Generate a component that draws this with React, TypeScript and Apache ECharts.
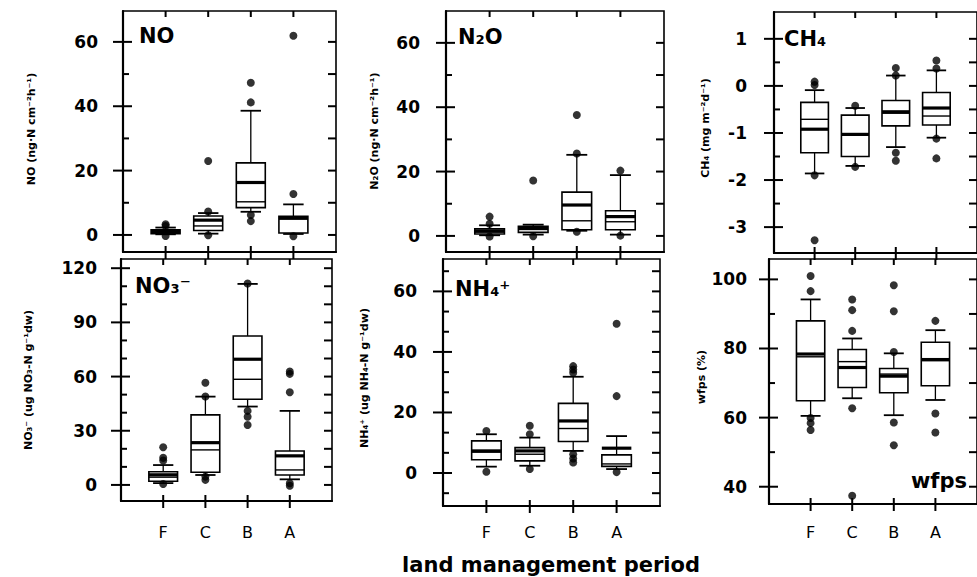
import React, { useEffect, useRef } from 'react';
import * as echarts from 'echarts';

const CATEGORIES = ['F', 'C', 'B', 'A'];
const CATEGORY_POS = [1, 2, 3, 4];

// box statistics per category: [lowerWhisker, q1, median, mean, q3, upperWhisker]
const NO_BOX = [
  [0.2, 0.4, 0.8, 1.1, 1.6, 2.3],
  [0.4, 1.4, 2.8, 4.6, 5.9, 6.8],
  [7.2, 8.5, 10.3, 16.3, 22.4, 38.6],
  [0.3, 0.6, 4.9, 5.4, 5.8, 9.5],
];
const NO_OUT = [[3.3, 2.8, -0.3], [7.3, 23.0, -0.1], [41.2, 47.3, 6.2, 4.3], [12.7, 61.9, -0.4]];

const N2O_BOX = [
  [0.2, 0.6, 1.2, 1.5, 2.2, 3.3],
  [0.4, 1.1, 2.0, 2.4, 3.0, 3.5],
  [1.6, 1.9, 4.7, 9.6, 13.6, 25.2],
  [0.4, 1.9, 4.4, 6.0, 7.8, 18.9],
];
const N2O_OUT = [[6.0, 3.8, -0.2], [17.2, -0.1], [25.6, 37.6, 1.3], [20.3, 0.1]];

const CH4_BOX = [
  [-1.86, -1.42, -0.71, -0.92, -0.35, -0.09],
  [-1.7, -1.5, -1.05, -1.03, -0.62, -0.47],
  [-1.3, -0.85, -0.58, -0.55, -0.31, 0.22],
  [-1.1, -0.83, -0.64, -0.47, -0.14, 0.33],
];
const CH4_OUT = [[0.09, 0.02, -1.9, -3.28], [-0.42, -1.72], [0.22, 0.38, -1.42, -1.59], [0.37, 0.54, -1.12, -1.54]];

const NO3_BOX = [
  [1.0, 2.0, 4.3, 5.6, 7.3, 11.0],
  [5.5, 7.0, 19.4, 23.4, 38.8, 48.9],
  [43.4, 47.4, 58.5, 69.6, 82.5, 111.3],
  [3.1, 5.5, 8.3, 16.1, 18.8, 41.0],
];
const NO3_OUT = [[20.9, 15.0, 13.5, 0.5], [49.0, 56.6, 4.6, 2.8], [111.5, 41.0, 37.8, 33.2], [51.3, 61.5, 62.8, 0.9, -0.5]];

const NH4_BOX = [
  [2.1, 4.4, 6.9, 7.3, 10.6, 12.8],
  [2.4, 4.0, 6.2, 7.3, 8.4, 11.7],
  [7.3, 10.4, 14.7, 17.2, 23.0, 31.8],
  [1.3, 2.2, 3.0, 8.2, 6.0, 12.2],
];
const NH4_OUT = [[13.9, 0.4], [12.8, 15.6, 1.3], [33.1, 34.2, 35.3, 6.2, 4.8, 3.5], [25.4, 49.3, 0.3]];

const WFPS_BOX = [
  [60.5, 64.9, 77.6, 78.4, 88.0, 94.2],
  [65.6, 68.7, 76.2, 74.5, 79.7, 82.9],
  [60.7, 67.2, 72.6, 72.0, 74.2, 78.6],
  [65.1, 69.2, 76.5, 76.8, 81.8, 85.3],
];
const WFPS_OUT = [[96.6, 101.0, 59.9, 58.4, 56.4], [85.1, 91.1, 94.2, 62.7, 37.4], [79.0, 90.8, 98.3, 58.6, 52.0], [88.0, 61.2, 55.7]];

const NO_TICKS = [0, 20, 40, 60];
const NO_MINOR = [10, 30, 50];
const CH4_TICKS = [-3, -2, -1, 0, 1];
const CH4_MINOR = [-2.5, -1.5, -0.5, 0.5];
const NO3_TICKS = [0, 30, 60, 90, 120];
const NO3_MINOR = [10, 20, 40, 50, 70, 80, 100, 110];
const NH4_TICKS = [0, 20, 40, 60];
const NH4_MINOR = [-20 / 3, 20 / 3, 40 / 3, 80 / 3, 100 / 3, 140 / 3, 160 / 3, 200 / 3];
const WFPS_TICKS = [40, 60, 80, 100];
const WFPS_MINOR = [50, 70, 90];

const FONT = 'DejaVu Sans';

const PANELS = [
  { box: NO_BOX, out: NO_OUT, major: NO_TICKS, minor: NO_MINOR, yMin: -5.3, yMax: 69.6,
    left: 123, top: 11, width: 213, height: 241, showX: false, xm: 22, lm: 25,
    title: 'NO', tx: 139, ty: 36, ta: 'left', yName: 'NO (ng·N cm⁻²h⁻¹)', nx: 31, ny: 129 },
  { box: N2O_BOX, out: N2O_OUT, major: NO_TICKS, minor: NO_MINOR, yMin: -5.0, yMax: 69.9,
    left: 446, top: 11, width: 218, height: 241, showX: false, xm: 22, lm: 26,
    title: 'N₂O', tx: 458, ty: 37, ta: 'left', yName: 'N₂O (ng·N cm⁻²h⁻¹)', nx: 374, ny: 131 },
  { box: CH4_BOX, out: CH4_OUT, major: CH4_TICKS, minor: CH4_MINOR, yMin: -3.55, yMax: 1.57,
    left: 774, top: 12, width: 218, height: 241, showX: false, xm: 22, lm: 27,
    title: 'CH₄', tx: 784, ty: 39, ta: 'left', yName: 'CH₄ (mg m⁻²d⁻¹)', nx: 705, ny: 128 },
  { box: NO3_BOX, out: NO3_OUT, major: NO3_TICKS, minor: NO3_MINOR, yMin: -8.9, yMax: 125.1,
    left: 121, top: 259, width: 211, height: 242, showX: true, xm: 23, lm: 24,
    title: 'NO₃⁻', tx: 135, ty: 286, ta: 'left', yName: 'NO₃⁻ (ug NO₃-N g⁻¹dw)', nx: 28, ny: 380 },
  { box: NH4_BOX, out: NH4_OUT, major: NH4_TICKS, minor: NH4_MINOR, yMin: -10.9, yMax: 70.7,
    left: 443, top: 259, width: 217, height: 247, showX: true, xm: 18, lm: 26,
    title: 'NH₄⁺', tx: 455, ty: 289, ta: 'left', yName: 'NH₄⁺ (ug NH₄-N g⁻¹dw)', nx: 364, ny: 378 },
  { box: WFPS_BOX, out: WFPS_OUT, major: WFPS_TICKS, minor: WFPS_MINOR, yMin: 35, yMax: 105.9,
    left: 769, top: 259, width: 217, height: 245, showX: true, xm: 20, lm: 22,
    title: 'wfps', tx: 967, ty: 481, ta: 'right', yName: 'wfps (%)', nx: 701, ny: 377 },
];

// box renderer; the first item of each panel also carries that panel's tick marks (as thin filled rects)
function makeBoxRenderer(p: any) {
  return (params: any, api: any) => {
    const x = api.value(0);
    const pt = (i: number) => api.coord([x, api.value(i)]);
    const lw = pt(1), q1 = pt(2), med = pt(3), mean = pt(4), q3 = pt(5), uw = pt(6);
    const bw = api.size([0.68, 0])[0];
    const cw = api.size([0.48, 0])[0];
    const cx = lw[0];
    const children: any[] = [
      { type: 'line', shape: { x1: cx, y1: q3[1], x2: cx, y2: uw[1] }, style: { stroke: '#000', lineWidth: 1.3 } },
      { type: 'line', shape: { x1: cx, y1: q1[1], x2: cx, y2: lw[1] }, style: { stroke: '#000', lineWidth: 1.3 } },
      { type: 'line', shape: { x1: cx - cw / 2, y1: uw[1], x2: cx + cw / 2, y2: uw[1] }, style: { stroke: '#000', lineWidth: 1.8 } },
      { type: 'line', shape: { x1: cx - cw / 2, y1: lw[1], x2: cx + cw / 2, y2: lw[1] }, style: { stroke: '#000', lineWidth: 1.8 } },
      { type: 'rect', shape: { x: cx - bw / 2, y: q3[1], width: bw, height: q1[1] - q3[1] }, style: { fill: '#fff', stroke: '#000', lineWidth: 1.6 } },
      { type: 'line', shape: { x1: cx - bw / 2, y1: med[1], x2: cx + bw / 2, y2: med[1] }, style: { stroke: '#000', lineWidth: 1.4 } },
      { type: 'line', shape: { x1: cx - bw / 2, y1: mean[1], x2: cx + bw / 2, y2: mean[1] }, style: { stroke: '#000', lineWidth: 3.2 } },
    ];
    if (params.dataIndex === 0) {
      const hTick = (x1: number, x2: number, y: number) =>
        children.push({ type: 'rect', shape: { x: x1, y: y - 1, width: x2 - x1, height: 2 }, style: { fill: '#000', stroke: null } });
      const vTick = (xx: number, y1: number, y2: number) =>
        children.push({ type: 'rect', shape: { x: xx - 1, y: y1, width: 2, height: y2 - y1 }, style: { fill: '#000', stroke: null } });
      const [xl, yt] = api.coord([0, p.yMax]);
      const [xr, yb] = api.coord([5, p.yMin]);
      p.major.forEach((v: number) => {
        const y = api.coord([0, v])[1];
        hTick(xl - 10, xl + 9, y);
        hTick(xr - 8, xr, y);
      });
      p.minor.forEach((v: number) => {
        const y = api.coord([0, v])[1];
        hTick(xl, xl + 6, y);
        hTick(xr - 8, xr, y);
      });
      CATEGORY_POS.forEach((c) => {
        const xx = api.coord([c, 0])[0];
        vTick(xx, yt, yt + 6);
        vTick(xx, yb - 6, yb + 7);
      });
    }
    return { type: 'group', children };
  };
}

function buildOption() {
  const grid: any[] = [];
  const xAxis: any[] = [];
  const yAxis: any[] = [];
  const series: any[] = [];
  const graphic: any[] = [];
  const black = '#000';
  PANELS.forEach((p, i) => {
    grid.push({ left: p.left, top: p.top, width: p.width, height: p.height, show: true, borderColor: black, borderWidth: 1.6, backgroundColor: 'transparent' });
    xAxis.push({
      gridIndex: i, type: 'value', min: 0, max: 5, splitLine: { show: false }, position: 'bottom',
      axisLine: { show: true, onZero: false, lineStyle: { color: black, width: 2.2 } },
      axisTick: { show: false },
      axisLabel: {
        show: p.showX, customValues: CATEGORY_POS, margin: p.xm, color: black, fontSize: 16, fontFamily: FONT,
        formatter: (v: number) => CATEGORIES[Math.round(v) - 1] ?? '',
      },
    });
    yAxis.push({
      gridIndex: i, type: 'value', min: p.yMin, max: p.yMax, splitLine: { show: false }, position: 'left',
      axisLine: { show: true, onZero: false, lineStyle: { color: black, width: 2.2 } },
      axisTick: { show: false },
      axisLabel: { show: true, customValues: p.major, margin: p.lm, color: black, fontSize: 17, fontWeight: 'bold', fontFamily: FONT },
    });
    series.push({
      type: 'custom', xAxisIndex: i, yAxisIndex: i, z: 3, clip: false,
      data: p.box.map((b, k) => [CATEGORY_POS[k], ...b]),
      encode: { x: 0, y: [1, 2, 3, 4, 5, 6] },
      renderItem: makeBoxRenderer(p),
    });
    const pts: number[][] = [];
    p.out.forEach((arr, k) => arr.forEach((v) => pts.push([CATEGORY_POS[k], v])));
    series.push({
      type: 'scatter', xAxisIndex: i, yAxisIndex: i, z: 4,
      symbol: 'circle', symbolSize: 8, itemStyle: { color: black }, data: pts,
    });
    graphic.push({
      type: 'text', x: p.tx, y: p.ty, silent: true, z: 10,
      style: { text: p.title, fill: black, fontSize: 21, fontWeight: 'bold', fontFamily: FONT, textAlign: p.ta, textVerticalAlign: 'middle' },
    });
    graphic.push({
      type: 'text', x: p.nx, y: p.ny, rotation: Math.PI / 2, silent: true, z: 10,
      style: { text: p.yName, fill: black, fontSize: 11, fontWeight: 'bold', fontFamily: FONT, textAlign: 'center', textVerticalAlign: 'middle' },
    });
  });
  graphic.push({
    type: 'text', x: 551, y: 565, silent: true, z: 10,
    style: { text: 'land management period', fill: black, fontSize: 21, fontWeight: 'bold', fontFamily: FONT, textAlign: 'center', textVerticalAlign: 'middle' },
  });
  return { animation: false, backgroundColor: '#fff', grid, xAxis, yAxis, series, graphic };
}

export default function App() {
  const ref = useRef<HTMLDivElement>(null);
  useEffect(() => {
    if (!ref.current) return;
    const chart = echarts.init(ref.current, undefined, { renderer: 'svg' });
    chart.setOption(buildOption() as any);
    return () => chart.dispose();
  }, []);
  return <div ref={ref} style={{ position: 'fixed', left: 0, top: 0, width: 977, height: 577, background: '#fff' }} />;
}
